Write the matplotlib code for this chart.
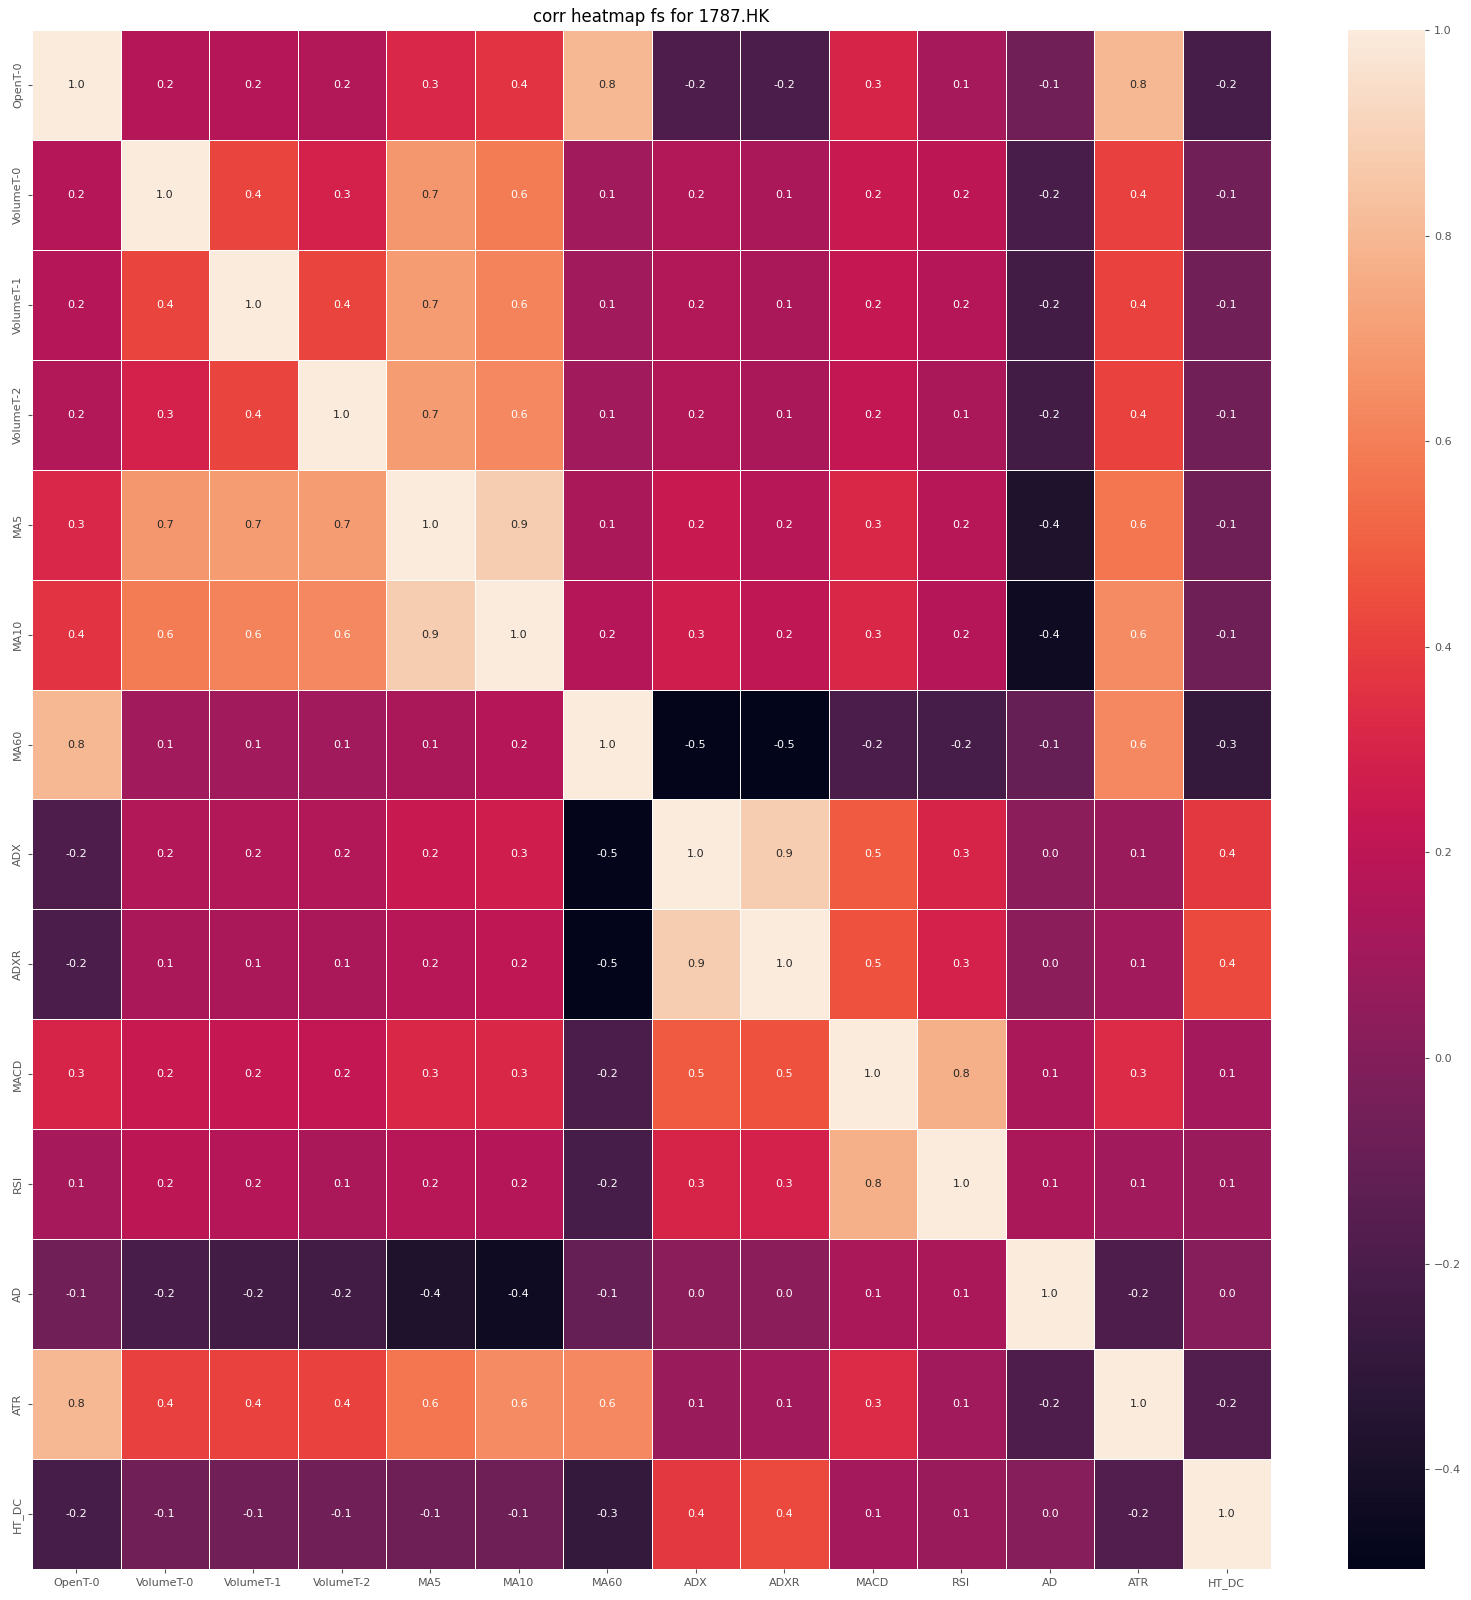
import matplotlib
matplotlib.use("Agg")
import matplotlib.pyplot as plt
import seaborn as sns
import numpy as np
import pandas as pd

labels = ["OpenT-0", "VolumeT-0", "VolumeT-1", "VolumeT-2", "MA5", "MA10", "MA60",
          "ADX", "ADXR", "MACD", "RSI", "AD", "ATR", "HT_DC"]

row_opent0   = [1.00, 0.17, 0.17, 0.16, 0.31, 0.36, 0.80, -0.19, -0.20, 0.30, 0.12, -0.07, 0.80, -0.22]
row_volumet0 = [0.17, 1.00, 0.42, 0.29, 0.68, 0.59, 0.10, 0.16, 0.13, 0.24, 0.20, -0.21, 0.40, -0.07]
row_volumet1 = [0.17, 0.42, 1.00, 0.42, 0.70, 0.61, 0.10, 0.16, 0.13, 0.23, 0.17, -0.23, 0.41, -0.07]
row_volumet2 = [0.16, 0.29, 0.42, 1.00, 0.70, 0.63, 0.10, 0.16, 0.14, 0.22, 0.13, -0.23, 0.41, -0.07]
row_ma5      = [0.31, 0.68, 0.70, 0.70, 1.00, 0.88, 0.13, 0.24, 0.18, 0.32, 0.18, -0.38, 0.57, -0.08]
row_ma10     = [0.36, 0.59, 0.61, 0.63, 0.88, 1.00, 0.17, 0.27, 0.21, 0.32, 0.17, -0.44, 0.64, -0.08]
row_ma60     = [0.80, 0.10, 0.10, 0.10, 0.13, 0.17, 1.00, -0.49, -0.497, -0.20, -0.22, -0.10, 0.63, -0.29]
row_adx      = [-0.19, 0.16, 0.16, 0.16, 0.24, 0.27, -0.49, 1.00, 0.88, 0.48, 0.30, 0.03, 0.08, 0.38]
row_adxr     = [-0.20, 0.13, 0.13, 0.14, 0.18, 0.21, -0.497, 0.88, 1.00, 0.46, 0.29, 0.03, 0.10, 0.43]
row_macd     = [0.30, 0.24, 0.23, 0.22, 0.32, 0.32, -0.20, 0.48, 0.46, 1.00, 0.77, 0.14, 0.33, 0.11]
row_rsi      = [0.12, 0.20, 0.17, 0.13, 0.18, 0.17, -0.22, 0.30, 0.29, 0.77, 1.00, 0.14, 0.10, 0.08]
row_ad       = [-0.07, -0.21, -0.23, -0.23, -0.38, -0.44, -0.10, 0.03, 0.03, 0.14, 0.14, 1.00, -0.19, 0.01]
row_atr      = [0.80, 0.40, 0.41, 0.41, 0.57, 0.64, 0.63, 0.08, 0.10, 0.33, 0.10, -0.19, 1.00, -0.18]
row_htdc     = [-0.22, -0.07, -0.07, -0.07, -0.08, -0.08, -0.29, 0.38, 0.43, 0.11, 0.08, 0.01, -0.18, 1.00]

rows = [row_opent0, row_volumet0, row_volumet1, row_volumet2, row_ma5, row_ma10, row_ma60,
        row_adx, row_adxr, row_macd, row_rsi, row_ad, row_atr, row_htdc]
corr = pd.DataFrame(rows, index=labels, columns=labels)

W, H = 1471, 1600
fig = plt.figure(figsize=(W / 100, H / 100), dpi=100)
ax = fig.add_axes([32 / W, 1 - 1569 / H, (1271 - 32) / W, (1569 - 30) / H])
cax = fig.add_axes([1348 / W, 1 - 1569 / H, (1425 - 1348) / W, (1569 - 30) / H])

sns.heatmap(corr, ax=ax, cbar_ax=cax, cmap="rocket", annot=True, fmt=".1f",
            linewidths=0.5, linecolor="white", annot_kws={"fontsize": 8})

grey = "#555555"
ax.set_title("corr heatmap fs for 1787.HK", fontsize=12)
ax.tick_params(axis="both", colors=grey, labelsize=8, length=3, width=0.8)
for t in ax.get_yticklabels():
    t.set_rotation(90)
    t.set_va("center")
for t in ax.get_xticklabels():
    t.set_rotation(0)
cax.tick_params(colors=grey, labelsize=8, length=3, width=0.8)
cax.set_yticks([-0.4, -0.2, 0.0, 0.2, 0.4, 0.6, 0.8, 1.0])

fig.savefig("out.png", dpi=100)
